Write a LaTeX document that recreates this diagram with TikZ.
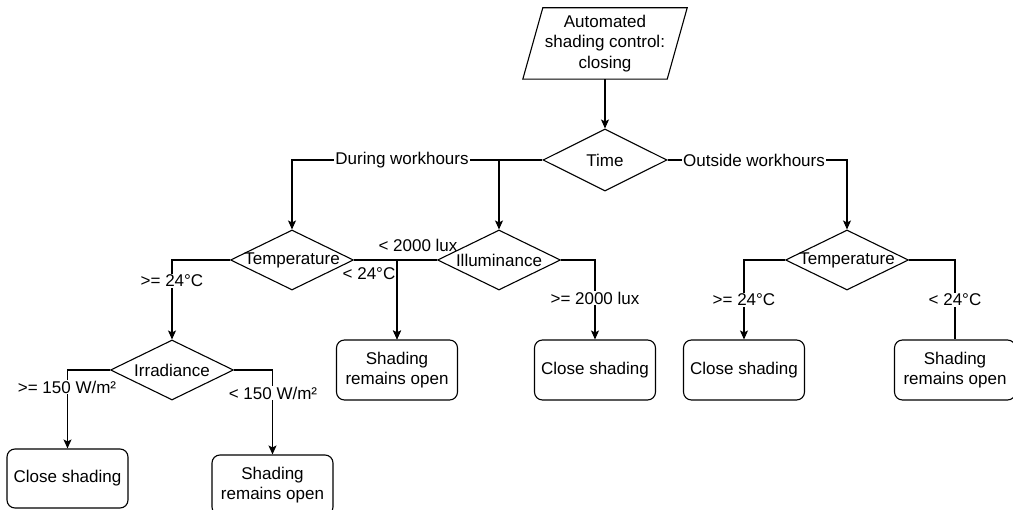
\documentclass[tikz,border=0pt]{standalone}
\usepackage{fontspec}
\setmainfont{Liberation Sans}
\usetikzlibrary{shapes.geometric,arrows.meta}
\tikzset{
  lbl/.style={fill=white, inner sep=1pt},
  plainlbl/.style={inner sep=1pt},
  dec/.style={diamond, draw, line width=1.1pt, minimum width=123pt, minimum height=60pt, inner sep=0pt},
  endbox/.style={rectangle, draw, rounded corners=8pt, line width=1.1pt, minimum width=121pt, minimum height=60pt, align=center, inner sep=2pt},
  conn/.style={line width=1.1pt},
  arr/.style={conn, -{Stealth[length=9pt,width=8pt,inset=2pt]}},
}
\begin{document}
\begin{tikzpicture}[x=1pt,y=-1pt, font=\fontsize{17pt}{20.5pt}\selectfont]
\useasboundingbox (0,0) rectangle (1013,510);
% start
\node[minimum width=144pt, minimum height=71pt, inner sep=0pt, align=center] (start) at (605,43.5) {Automated\\shading control:\\closing};
\draw[conn] ([xshift=-10pt]start.south west) -- ([xshift=10pt]start.north west) -- ([xshift=10pt]start.north east) -- ([xshift=-10pt]start.south east) -- cycle;
% decisions
\node[dec, minimum width=124pt, minimum height=62pt] (time) at (605,160) {\makebox[0pt]{Time}};
\node[dec] (tempL) at (292,260) {\makebox[0pt]{Temperature}};
\node[dec] (illum) at (499,260) {\makebox[0pt]{Illuminance}};
\node[dec] (tempR) at (847,260) {\makebox[0pt]{Temperature}};
\node[dec] (irr) at (172,370) {\makebox[0pt]{Irradiance}};
% outcomes
\node[endbox] (open1) at (397,370) {Shading\\remains open};
\node[endbox] (close1) at (595,370) {Close shading};
\node[endbox] (close2) at (744,370) {Close shading};
\node[endbox] (open2) at (955,370) {Shading\\remains open};
\node[endbox, minimum height=59pt] (close3) at (67.5,478.5) {Close shading};
\node[endbox] (open3) at (272.5,485) {Shading\\remains open};
% connectors
\coordinate (jt) at (499,160);
\draw[arr] (start.south) -- (time.north);
\draw[arr] (time.west) -| (tempL.north);
\draw[arr] (jt) -- (illum.north);
\node[lbl] (lDuring) at (402,160) {During workhours};
\draw[arr] (time.east) -| (tempR.north);
\node[lbl] (lOutside) at (754,160) {Outside workhours};
\draw[arr] (tempL.west) -| (irr.north);
\node[lbl] (lGeA) at (172,281) {>= 24°C};
\draw[arr] (tempL.east) -| (open1.north);
\node[plainlbl] (lLtA) at (369,274) {< 24°C};
\draw[arr] (illum.west) -| (open1.north);
\node[plainlbl] (lLtLux) at (418,245) {< 2000 lux};
\draw[arr] (illum.east) -| (close1.north);
\node[lbl] (lGeLux) at (595,298) {>= 2000 lux};
\draw[arr] (tempR.west) -| (close2.north);
\node[lbl] (lGeB) at (744,300) {>= 24°C};
\draw[conn] (tempR.east) -| (open2.north);
\node[lbl] (lLtB) at (955,300) {< 24°C};
\draw[arr] (irr.west) -| (close3.north);
\node[lbl] (lGeW) at (67,387) {>= 150 W/m²};
\draw[arr] (irr.east) -| (open3.north);
\node[lbl] (lLtW) at (273,393) {< 150 W/m²};
\end{tikzpicture}
\end{document}
